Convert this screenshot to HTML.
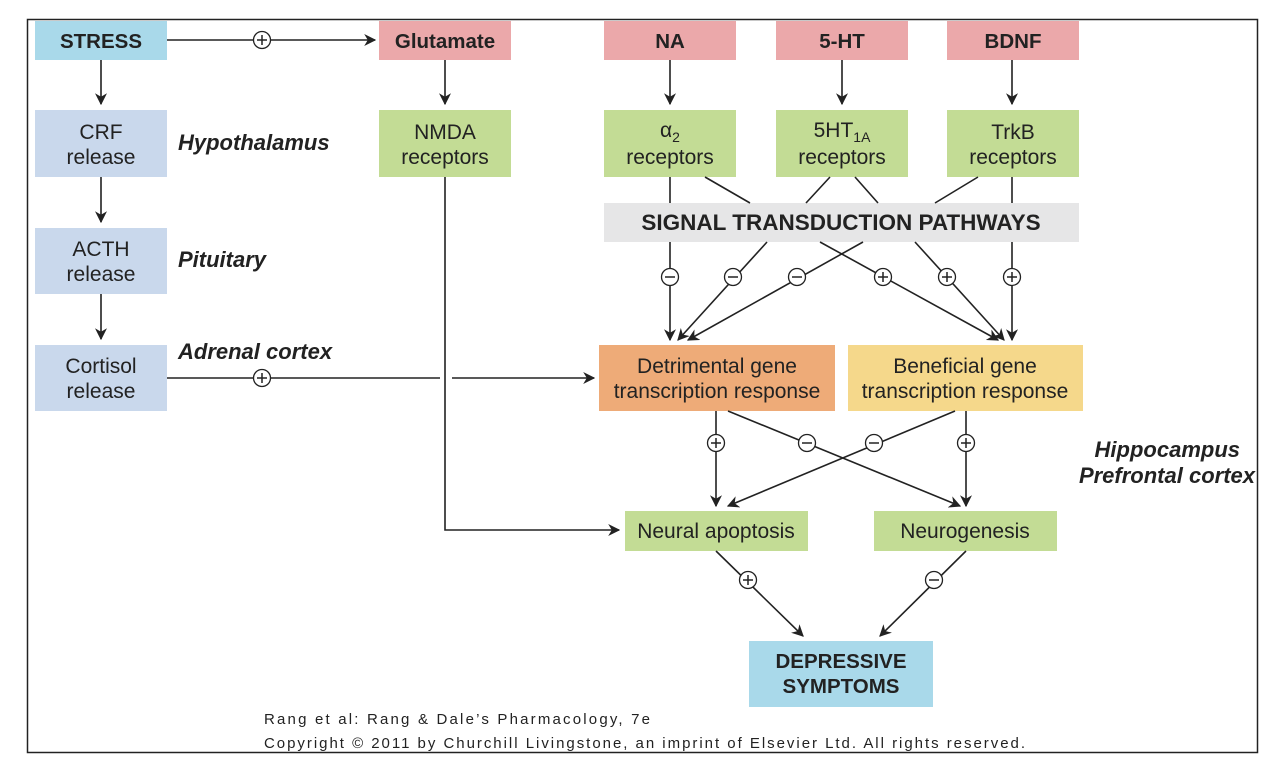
<!DOCTYPE html>
<html><head><meta charset="utf-8"><style>
html,body{margin:0;padding:0;background:#fff;}
svg{display:block;}
text{font-family:"Liberation Sans",sans-serif;fill:#222;}
</style></head><body>
<svg width="1282" height="782" viewBox="0 0 1282 782" xmlns="http://www.w3.org/2000/svg">
<defs>
<marker id="a" viewBox="0 0 10 10" refX="9" refY="5" markerWidth="12" markerHeight="12" markerUnits="userSpaceOnUse" orient="auto"><path d="M0,0 L10,5 L0,10 L3,5 z" fill="#222"/></marker>
<g id="p"><circle r="8.5" fill="#fff" stroke="#222" stroke-width="1.3"/><path d="M-5,0H5M0,-5V5" stroke="#222" stroke-width="1.5"/></g>
<g id="m"><circle r="8.5" fill="#fff" stroke="#222" stroke-width="1.3"/><path d="M-5,0H5" stroke="#222" stroke-width="1.5"/></g>
</defs>
<rect x="27.5" y="19.5" width="1230" height="733" fill="none" stroke="#222" stroke-width="1.5"/>
<g>
<rect x="35" y="21" width="132" height="39" fill="#a9d9ea"/>
<rect x="379" y="21" width="132" height="39" fill="#eba8aa"/>
<rect x="604" y="21" width="132" height="39" fill="#eba8aa"/>
<rect x="776" y="21" width="132" height="39" fill="#eba8aa"/>
<rect x="947" y="21" width="132" height="39" fill="#eba8aa"/>
<rect x="35" y="110" width="132" height="67" fill="#c9d8ec"/>
<rect x="35" y="228" width="132" height="66" fill="#c9d8ec"/>
<rect x="35" y="345" width="132" height="66" fill="#c9d8ec"/>
<rect x="379" y="110" width="132" height="67" fill="#c3dc95"/>
<rect x="604" y="110" width="132" height="67" fill="#c3dc95"/>
<rect x="776" y="110" width="132" height="67" fill="#c3dc95"/>
<rect x="947" y="110" width="132" height="67" fill="#c3dc95"/>
<rect x="604" y="203" width="475" height="39" fill="#e6e6e7"/>
<rect x="599" y="345" width="236" height="66" fill="#eeab78"/>
<rect x="848" y="345" width="235" height="66" fill="#f5d88b"/>
<rect x="625" y="511" width="183" height="40" fill="#c3dc95"/>
<rect x="874" y="511" width="183" height="40" fill="#c3dc95"/>
<rect x="749" y="641" width="184" height="66" fill="#a9d9ea"/>
</g>
<g stroke="#222" stroke-width="1.6" fill="none">
<path d="M167,40H375" marker-end="url(#a)"/>
<path d="M101,60V104" marker-end="url(#a)"/>
<path d="M101,177V222" marker-end="url(#a)"/>
<path d="M101,294V339" marker-end="url(#a)"/>
<path d="M445,60V104" marker-end="url(#a)"/>
<path d="M670,60V104" marker-end="url(#a)"/>
<path d="M842,60V104" marker-end="url(#a)"/>
<path d="M1012,60V104" marker-end="url(#a)"/>
<path d="M167,378H440M452,378H594" marker-end="url(#a)"/>
<path d="M445,177V530H619" marker-end="url(#a)"/>
<path d="M670,177V203M705,177L750,203M830,177L806,203M855,177L878,203M978,177L935,203M1012,177V203"/>
<path d="M670,242V340" marker-end="url(#a)"/>
<path d="M767,242L678,340" marker-end="url(#a)"/>
<path d="M863,242L688,340" marker-end="url(#a)"/>
<path d="M820,242L998,340" marker-end="url(#a)"/>
<path d="M915,242L1004,340" marker-end="url(#a)"/>
<path d="M1012,242V340" marker-end="url(#a)"/>
<path d="M716,411V506" marker-end="url(#a)"/>
<path d="M728,411L960,506" marker-end="url(#a)"/>
<path d="M955,411L728,506" marker-end="url(#a)"/>
<path d="M966,411V506" marker-end="url(#a)"/>
<path d="M716,551L803,636" marker-end="url(#a)"/>
<path d="M966,551L880,636" marker-end="url(#a)"/>
</g>
<use href="#p" x="262" y="40"/>
<use href="#p" x="262" y="378"/>
<use href="#m" x="670" y="277"/>
<use href="#m" x="733" y="277"/>
<use href="#m" x="797" y="277"/>
<use href="#p" x="883" y="277"/>
<use href="#p" x="947" y="277"/>
<use href="#p" x="1012" y="277"/>
<use href="#p" x="716" y="443"/>
<use href="#m" x="807" y="443"/>
<use href="#m" x="874" y="443"/>
<use href="#p" x="966" y="443"/>
<use href="#p" x="748" y="580"/>
<use href="#m" x="934" y="580"/>
<g font-size="21" text-anchor="middle">
<text x="101" y="48" font-weight="bold" font-size="20.5">STRESS</text>
<text x="445" y="48" font-weight="bold" font-size="20.5">Glutamate</text>
<text x="670" y="48" font-weight="bold" font-size="20.5">NA</text>
<text x="842" y="48" font-weight="bold" font-size="20.5">5-HT</text>
<text x="1013" y="48" font-weight="bold" font-size="20.5">BDNF</text>
<text x="101" y="139">CRF</text><text x="101" y="164">release</text>
<text x="101" y="256">ACTH</text><text x="101" y="281">release</text>
<text x="101" y="373">Cortisol</text><text x="101" y="398">release</text>
<text x="445" y="139">NMDA</text><text x="445" y="164">receptors</text>
<text x="670" y="137">α<tspan font-size="14" dy="5">2</tspan></text><text x="670" y="164">receptors</text>
<text x="842" y="137">5HT<tspan font-size="14" dy="5">1A</tspan></text><text x="842" y="164">receptors</text>
<text x="1013" y="139">TrkB</text><text x="1013" y="164">receptors</text>
<text x="841" y="230" font-weight="bold" font-size="22.5">SIGNAL TRANSDUCTION PATHWAYS</text>
<text x="717" y="373">Detrimental gene</text><text x="717" y="398">transcription response</text>
<text x="965" y="373">Beneficial gene</text><text x="965" y="398">transcription response</text>
<text x="716" y="538">Neural apoptosis</text>
<text x="965" y="538">Neurogenesis</text>
<text x="841" y="668" font-weight="bold" font-size="20.5">DEPRESSIVE</text><text x="841" y="693" font-weight="bold" font-size="20.5">SYMPTOMS</text>
</g>
<g font-size="22" font-weight="bold" font-style="italic">
<text x="178" y="150">Hypothalamus</text>
<text x="178" y="267">Pituitary</text>
<text x="178" y="359">Adrenal cortex</text>
<text x="1240" y="457" text-anchor="end">Hippocampus</text>
<text x="1255" y="483" text-anchor="end">Prefrontal cortex</text>
</g>
<g font-size="15">
<text x="264" y="724" textLength="386" lengthAdjust="spacing">Rang et al: Rang &amp; Dale’s Pharmacology, 7e</text>
<text x="264" y="748" textLength="761" lengthAdjust="spacing">Copyright © 2011 by Churchill Livingstone, an imprint of Elsevier Ltd. All rights reserved.</text>
</g>
</svg>
</body></html>
